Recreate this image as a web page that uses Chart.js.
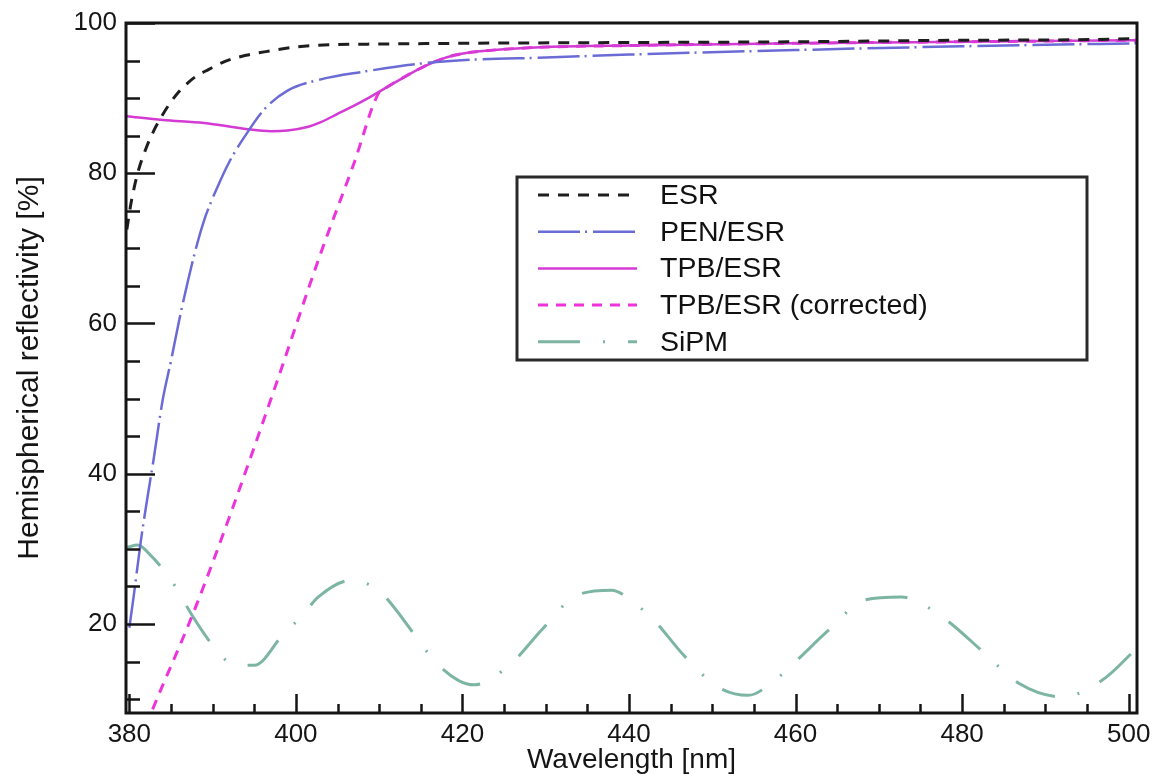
<!DOCTYPE html>
<html>
<head>
<meta charset="utf-8">
<title>Hemispherical reflectivity</title>
<script src="https://cdn.jsdelivr.net/npm/chart.js@4.4.1/dist/chart.umd.min.js"></script>
<style>
  html, body { margin: 0; padding: 0; background: #ffffff; }
  #wrap { width: 1155px; height: 776px; }
</style>
</head>
<body>
<div id="wrap"><canvas id="chart" width="1155" height="776"></canvas></div>
<script>
// Measured reflectivity spectra, wavelength in nm, reflectivity in %
const esrNm = [379.7, 380.2, 381, 382, 383, 384, 385, 386, 387, 388, 389.5, 391.5, 394, 397, 400, 404, 410, 420, 440, 460, 480, 500, 501];
const esrR  = [72.5, 76, 80, 83.3, 85.8, 87.8, 89.5, 90.9, 92.0, 92.9, 93.8, 94.9, 95.7, 96.3, 96.8, 97.1, 97.2, 97.3, 97.4, 97.5, 97.7, 97.9, 98.0];

const penNm = [380, 380.5, 381.4, 382.2, 382.9, 384, 385, 386, 387, 388, 389, 390.6, 392, 393.8, 396.2, 399, 403, 408, 415, 421, 430, 440, 460, 480, 501];
const penR  = [19.5, 23.5, 31.2, 37, 41.8, 49.8, 55, 60.5, 65.5, 70, 73.8, 78.2, 81.5, 84.8, 88.5, 91, 92.5, 93.5, 94.6, 95.1, 95.4, 95.8, 96.4, 96.9, 97.3];

const tpbNm = [379.7, 384, 389, 394, 397, 399, 401.5, 403, 405, 407, 409, 411, 413, 415, 417, 419, 421, 425, 430, 440, 460, 480, 501];
const tpbR  = [87.6, 87.1, 86.7, 85.9, 85.6, 85.7, 86.2, 86.8, 87.9, 89.0, 90.2, 91.5, 92.8, 94.0, 95.0, 95.7, 96.1, 96.5, 96.8, 97.0, 97.3, 97.5, 97.7];

const corrNm = [382, 382.6, 387.8, 392.2, 397.8, 403, 407, 409.9, 411, 413, 415, 417, 419, 421, 425, 430, 440, 460, 480, 501];
const corrR  = [6.4, 8.1, 21.8, 34.8, 52.5, 69.4, 81.4, 90.6, 91.5, 92.8, 94.0, 95.0, 95.7, 96.1, 96.5, 96.8, 97.0, 97.3, 97.5, 97.7];

const sipmNm = [379.7, 381, 382.5, 384.1, 385.8, 387.4, 390.2, 392.2, 395.0, 398.6, 400.6, 402.7, 406.6, 409.9, 411.8, 415.0, 416.8, 419.5, 421.4, 425.9, 429.5, 433.4, 437.9, 440.6, 443.0, 446.6, 450.7, 454.3, 457.5, 459.9, 464.0, 468.3, 472.7, 475.9, 478.5, 482.7, 486.8, 492.0, 496.8, 501];
const sipmR  = [30.2, 30.5, 29.2, 27.2, 24.5, 21.4, 16.9, 14.8, 14.5, 18.8, 20.9, 23.6, 25.8, 24.5, 22.2, 17.4, 14.9, 12.5, 11.9, 14.8, 19.2, 23.6, 24.5, 22.8, 20.5, 15.8, 11.6, 10.5, 12.5, 14.9, 19.2, 23.2, 23.6, 22.2, 20.2, 16.1, 12.1, 10.3, 12.5, 16.8];

const seriesNames = ['ESR', 'PEN/ESR', 'TPB/ESR', 'TPB/ESR (corrected)', 'SiPM'];

// Axis ranges and labelled tick values
const xRange = [379.6, 501];
const yRange = [8.15, 100];
const xTickValues = [380, 400, 420, 440, 460, 480, 500];
const yTickValues = [20, 40, 60, 80, 100];

const FONT = '"Liberation Sans", Arial, Helvetica, sans-serif';

function pts(xs, ys) { return xs.map((x, i) => ({ x: x, y: ys[i] })); }

// Frame around the plot area with inward major/minor tick marks
const frameTicks = {
  id: 'frameTicks',
  afterDatasetsDraw(chart) {
    const { ctx, chartArea: a, scales: { x, y } } = chart;
    ctx.save();
    ctx.strokeStyle = '#151515';
    ctx.lineWidth = 2.5;
    ctx.beginPath();
    for (let v = Math.ceil(x.min / 5) * 5; v <= x.max + 1e-9; v += 5) {
      const px = Math.round(x.getPixelForValue(v)) + 0.5;
      const len = v % 20 === 0 ? 19 : 9;
      ctx.moveTo(px, a.bottom);
      ctx.lineTo(px, a.bottom - len);
    }
    for (let v = Math.ceil(y.min / 5) * 5; v <= y.max + 1e-9; v += 5) {
      const py = Math.round(y.getPixelForValue(v)) + 0.5;
      const len = v % 20 === 0 ? 29 : 14;
      ctx.moveTo(a.left, py);
      ctx.lineTo(a.left + len, py);
    }
    ctx.stroke();
    ctx.lineWidth = 3;
    ctx.strokeRect(a.left, a.top, a.right - a.left, a.bottom - a.top);
    ctx.restore();
  }
};

// Boxed legend placed inside the plot area
const boxedLegend = {
  id: 'boxedLegend',
  afterDraw(chart) {
    const { ctx, chartArea: a } = chart;
    const left = a.left + 391, top = a.top + 154, w = 570, h = 183;
    const rowH = 36.7, firstRow = top + 18;
    ctx.save();
    ctx.fillStyle = '#ffffff';
    ctx.fillRect(left, top, w, h);
    ctx.strokeStyle = '#2a2a2a';
    ctx.lineWidth = 3;
    ctx.strokeRect(left, top, w, h);
    ctx.font = '28.5px ' + FONT;
    ctx.textBaseline = 'middle';
    ctx.textAlign = 'left';
    chart.data.datasets.forEach((ds, i) => {
      const cy = firstRow + i * rowH;
      ctx.strokeStyle = ds.borderColor;
      ctx.lineWidth = ds.borderWidth;
      ctx.setLineDash(ds.borderDash || []);
      ctx.beginPath();
      ctx.moveTo(left + 21, cy);
      ctx.lineTo(left + 120, cy);
      ctx.stroke();
      ctx.setLineDash([]);
      ctx.fillStyle = '#111111';
      ctx.fillText(ds.label, left + 143, cy + 1);
    });
    ctx.restore();
  }
};

const chart = new Chart(document.getElementById('chart'), {
  type: 'line',
  data: {
    datasets: [
      { label: seriesNames[0], data: pts(esrNm, esrR), borderColor: '#1e1e1e', borderWidth: 3, borderDash: [11, 9] },
      { label: seriesNames[1], data: pts(penNm, penR), borderColor: '#6b6bd6', borderWidth: 2.5, borderDash: [42, 5, 2, 6] },
      { label: seriesNames[2], data: pts(tpbNm, tpbR), borderColor: '#d43ad4', borderWidth: 2.5 },
      { label: seriesNames[3], data: pts(corrNm, corrR), borderColor: '#ec33dc', borderWidth: 3, borderDash: [10, 8] },
      { label: seriesNames[4], data: pts(sipmNm, sipmR), borderColor: '#7db5a3', borderWidth: 3, borderDash: [42, 23, 2, 23] }
    ]
  },
  options: {
    responsive: false,
    animation: false,
    devicePixelRatio: 1,
    layout: { padding: { top: 23, right: 18, left: 0, bottom: 0 } },
    elements: {
      point: { radius: 0 },
      line: { cubicInterpolationMode: 'monotone', fill: false }
    },
    datasets: { line: { clip: 1 } },
    plugins: { legend: { display: false }, tooltip: { enabled: false } },
    scales: {
      x: {
        type: 'linear',
        min: xRange[0], max: xRange[1],
        bounds: 'data',
        grid: { display: false, drawTicks: false },
        border: { display: false },
        afterBuildTicks(s) { s.ticks = xTickValues.map(v => ({ value: v })); },
        ticks: {
          autoSkip: false, maxRotation: 0,
          padding: 6, color: '#151515', font: { family: FONT, size: 26 }
        },
        title: {
          display: true, text: 'Wavelength [nm]', color: '#151515',
          font: { family: FONT, size: 28, lineHeight: 1.1 }, padding: { top: 0, bottom: 0 }
        },
        afterFit(s) { s.height = 63; s.paddingLeft = 0; s.paddingRight = 0; }
      },
      y: {
        type: 'linear',
        min: yRange[0], max: yRange[1],
        bounds: 'data',
        grid: { display: false, drawTicks: false },
        border: { display: false },
        afterBuildTicks(s) { s.ticks = yTickValues.map(v => ({ value: v })); },
        ticks: {
          autoSkip: false,
          padding: 9, color: '#151515', font: { family: FONT, size: 26 }
        },
        title: {
          display: true, text: 'Hemispherical reflectivity [%]', color: '#151515',
          font: { family: FONT, size: 30, lineHeight: 1.1 }, padding: { top: 13, bottom: 0 }
        },
        afterFit(s) { s.width = 126; s.paddingTop = 0; s.paddingBottom = 0; }
      }
    }
  },
  plugins: [frameTicks, boxedLegend]
});
</script>
</body>
</html>
